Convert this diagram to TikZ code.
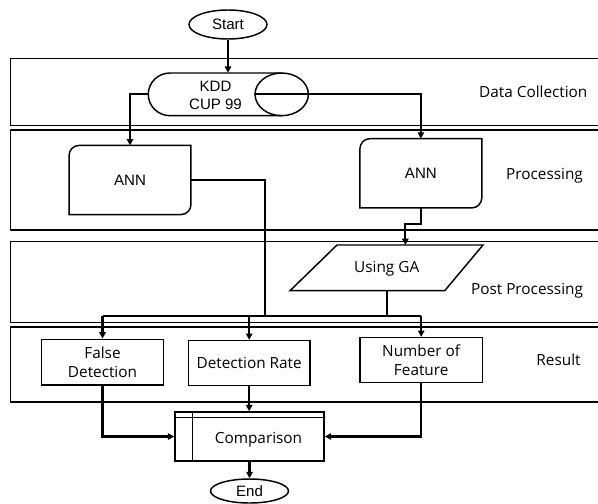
\documentclass[tikz,border=0pt]{standalone}
\usepackage{fontspec}
\setmainfont{Open Sans}
\newfontfamily\arialf{Liberation Sans}
\usetikzlibrary{arrows.meta,calc,shapes.geometric}
\begin{document}
\begin{tikzpicture}[x=0.75pt,y=-0.75pt,
  lane/.style={line width=1pt},
  shp/.style={line width=1.1pt},
  box/.style={draw, line width=1.1pt, inner sep=0pt},
  conn/.style={line width=1.6pt},
  arr/.style={conn, -{Triangle[length=4.8pt,width=4.8pt]}},
  lbl/.style={font=\fontsize{11.5}{13.7}\selectfont, align=center, inner sep=0pt},
  albl/.style={font=\arialf\fontsize{11.3}{13.5}\selectfont, align=center},
]
\useasboundingbox (0,0) rectangle (598,503);
\fill[white] (0,0) rectangle (598,503);

% lanes
\draw[lane] (598,58.3) -- (10.7,58.3) -- (10.7,125.7) -- (598,125.7);
\draw[lane] (598,130) -- (10.7,130) -- (10.7,230) -- (598,230);
\draw[lane] (598,241.5) -- (10.7,241.5) -- (10.7,322.3) -- (598,322.3);
\draw[lane] (598,327) -- (10.7,327) -- (10.7,402) -- (598,402);

\node[lbl] (ldc) at (533.3,91.7) {Data Collection};
\node[lbl] (lpr) at (544.5,176) {Processing};
\node[lbl] (lpp) at (527,291) {Post Processing};
\node[lbl] (lre) at (558.5,359.3) {Result};

% start
\node[box, ellipse, albl, minimum width=58.5pt, minimum height=21.75pt] (start) at (228,24.5) {Start};

% KDD storage
\node[minimum width=120pt, minimum height=32pt, inner sep=0pt] (kdd) at (228.3,94.35) {};
\draw[shp] (281.7,73) -- (170,73) arc[start angle=90, end angle=270, x radius=16.3pt, y radius=16pt] -- (281.7,115.7);
\node[draw, ellipse, shp, minimum width=40pt, minimum height=32pt, inner sep=0pt] (kdde) at (281.7,94.35) {};
\node[albl] (kddt) at (215.5,95) {KDD\\CUP 99};

% ANN boxes
\node[minimum width=91pt, minimum height=51.5pt, inner sep=0pt, albl] (lann) at (130,180) {ANN};
\draw[shp] (lann.south west) -- ($(lann.north west)+(0pt,-7.5pt)$) arc[start angle=180,end angle=90,radius=7.5pt] -- (lann.north east) -- ($(lann.south east)+(0pt,7.5pt)$) arc[start angle=0,end angle=-90,radius=7.5pt] -- cycle;
\node[minimum width=91pt, minimum height=51.5pt, inner sep=0pt, albl] (rann) at (420.85,173.3) {ANN};
\draw[shp] (rann.south west) -- ($(rann.north west)+(0pt,-7.5pt)$) arc[start angle=180,end angle=90,radius=7.5pt] -- (rann.north east) -- ($(rann.south east)+(0pt,7.5pt)$) arc[start angle=0,end angle=-90,radius=7.5pt] -- cycle;

% GA
\node[lbl, minimum height=34.3pt] (ga) at (386.7,268.3) {Using GA};
\draw[shp] (337,245) -- (483,245) -- (444.7,290.7) -- (290,290.7) -- cycle;

% results
\node[box, lbl, minimum width=91.2pt, minimum height=34.3pt] (fd) at (102.5,362.2) {False\\Detection};
\node[box, lbl, minimum width=91.3pt, minimum height=33.8pt] (dr) at (249.2,363.2) {Detection Rate};
\node[box, lbl, minimum width=91.7pt, minimum height=33.8pt] (nof) at (421.2,360.2) {Number of\\Feature};

% comparison
\node[box, minimum width=111.75pt, minimum height=36.75pt] (cmp) at (249.5,436.5) {};
\draw[shp] ($(cmp.north west)+(13.7pt,0pt)$) -- ($(cmp.south west)+(13.7pt,0pt)$);
\draw[shp] ($(cmp.north west)+(0pt,-4.7pt)$) -- ($(cmp.north east)+(0pt,-4.7pt)$);
\node[lbl] (cmpt) at (258.5,439.5) {Comparison};

% end
\node[box, ellipse, albl, minimum width=58.5pt, minimum height=18pt] (end) at (249.5,491) {End};

% connectors
\draw[arr] (start.south) -- (start.south |- kdd.north);
\draw[arr] (kdd.west) -| (lann.north);
\draw[arr] (kdde.west) -| (rann.north);
\coordinate (jog) at (405.3,224);
\coordinate (gatop) at (405.3,245);
\draw[arr] (rann.south) |- (jog) -- (gatop);
\coordinate (bus) at (265,315.7);
\draw[conn] (lann.east) -| (bus);
\draw[conn] (ga.south) -- (ga.south |- bus);
\draw[conn] (fd.north |- bus) -- (nof.north |- bus);
\draw[arr] (fd.north |- bus) -- (fd.north);
\draw[arr] (dr.north |- bus) -- (dr.north);
\draw[arr] (nof.north |- bus) -- (nof.north);
\draw[arr] (fd.south) |- (cmp.west);
\draw[arr] (dr.south) -- (dr.south |- cmp.north);
\draw[arr] (nof.south) |- (cmp.east);
\draw[arr] (cmp.south) -- (end.north);
\end{tikzpicture}
\end{document}
